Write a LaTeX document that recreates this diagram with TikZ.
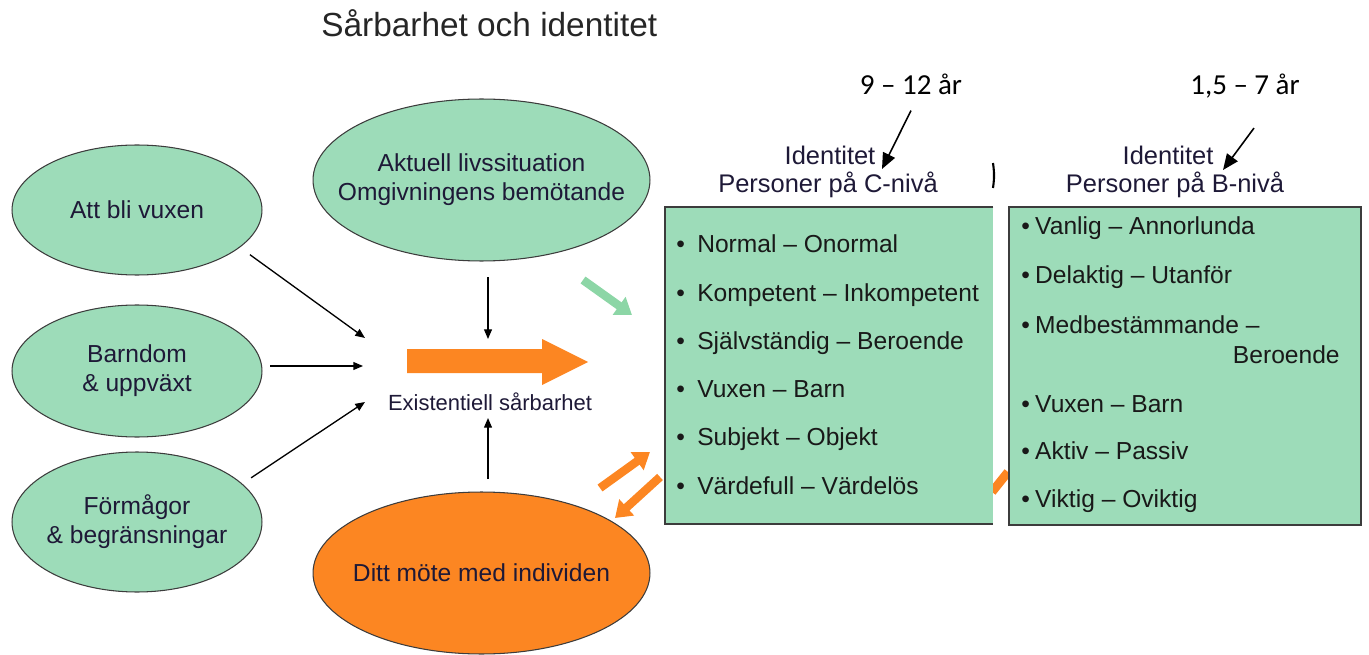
\documentclass[tikz,border=0pt]{standalone}
\usepackage{fontspec}
\setmainfont{Liberation Sans}
\newfontfamily\agefont{Carlito}
\usetikzlibrary{shapes.geometric,arrows.meta}

\definecolor{ellgreen}{RGB}{157,220,185}
\definecolor{arrgreen}{RGB}{140,214,166}
\definecolor{meetorange}{RGB}{252,134,34}
\definecolor{textnavy}{RGB}{30,25,55}
\definecolor{rimgray}{RGB}{60,60,60}

\begin{document}
\begin{tikzpicture}[x=0.02cm,y=-0.02cm,
        greenell/.style={ellipse,draw=rimgray,line width=0.6pt,fill=ellgreen,inner sep=0pt,minimum width=5cm},
        orangeell/.style={greenell,fill=meetorange},
        elltext/.style={align=center,text=textnavy,font=\fontsize{14}{16.5}\selectfont},
        listbox/.style={fill=ellgreen,inner sep=0pt},
        item/.style={anchor=base west,inner sep=0pt,font=\fontsize{14}{17}\selectfont,text=black!90},
        head/.style={anchor=base,inner sep=0pt,text=textnavy,font=\fontsize{14.5}{17}\selectfont},
        agelabel/.style={anchor=base,inner sep=0pt,font=\agefont\fontsize{16.5}{20}\selectfont},
        thinarrow/.style={line width=0.75pt,-{Triangle[length=5.5pt,width=4.5pt]}},
        agearrow/.style={line width=0.9pt,-{Triangle[length=9pt,width=7.5pt]}},
        fatarrow/.style={line width=4.8pt,-{Triangle[length=9pt,width=12pt]}}]
                \useasboundingbox (0,0) rectangle (1369,655);
                \node[anchor=base west,inner sep=0pt,font=\fontsize{19}{23}\selectfont,text=black!85] (title) at (321,37) {Sårbarhet och identitet};
                \node[greenell,minimum height=2.6cm,label={[elltext]center:Att bli vuxen}] (vuxen) at (137,210) {};
                \node[greenell,minimum height=2.64cm,label={[elltext]center:{Barndom\\\& uppväxt}}] (barndom) at (137,371) {};
                \node[greenell,minimum height=2.8cm,label={[elltext]center:{Förmågor\\\& begränsningar}}] (formagor) at (137,522) {};
                \node[greenell,minimum width=6.74cm,minimum height=3.24cm,label={[elltext]center:{Aktuell livssituation\\Omgivningens bemötande}}] (aktuell) at (481.5,180) {};
                \node[orangeell,minimum width=6.74cm,minimum height=3.24cm,label={[elltext]center:Ditt möte med individen}] (mote) at (481.5,573) {};
                \coordinate (inA) at (365,338);
                \coordinate (inB) at (363,366);
                \coordinate (inC) at (365,402);
                \coordinate (inD) at (488,339);
                \coordinate (inE) at (488,418);
                \draw[thinarrow,shorten <=7pt] (vuxen.-20) -- (inA);
                \draw[thinarrow,shorten <=4.5pt] (barndom.east |- inB) -- (inB);
                \draw[thinarrow,shorten <=6pt] (formagor.20) -- (inC);
                \draw[thinarrow,shorten <=9pt] (aktuell.south -| inD) -- (inD);
                \draw[thinarrow,shorten <=7pt] (mote.north -| inE) -- (inE);
                \fill[meetorange] (407,349) -- (542,349) -- (542,339) -- (588,362) -- (542,385) -- (542,373) -- (407,373) -- cycle;
                \node[anchor=base,inner sep=0pt,font=\fontsize{12.5}{15}\selectfont,text=textnavy] (exist) at (490,410) {Existentiell sårbarhet};
                \coordinate (greenTail) at (583,280);
                \coordinate (greenTip) at (632,315);
                \coordinate (upTail) at (600,488);
                \coordinate (upTip) at (650,452);
                \coordinate (downTail) at (660,477);
                \coordinate (downTip) at (615,518);
                \draw[fatarrow,arrgreen] (greenTail) -- (greenTip);
                \draw[fatarrow,meetorange] (upTail) -- (upTip);
                \draw[fatarrow,meetorange] (downTail) -- (downTip);
                \draw[meetorange,line width=5pt] (992,492) -- (1008,472);
                \draw[line width=1.2pt] (993,163) to[bend left=8] (993,188);
                \node[listbox,minimum width=6.56cm,minimum height=6.34cm] (boxC) at (829,365.5) {};
                \draw[line width=1pt,rimgray] (boxC.north east) -- (boxC.north west) -- (boxC.south west) -- (boxC.south east);
                \node[listbox,draw=rimgray,line width=1pt,minimum width=7.04cm,minimum height=6.36cm] (boxB) at (1185,366) {};
                \node[head] (idC) at (830,165) {Identitet};
                \node[head] (persC) at (828,193) {Personer på C-nivå};
                \node[head] (idB) at (1168,165) {Identitet};
                \node[head] (persB) at (1175,193) {Personer på B-nivå};
                \foreach \txt [count=\i] in {Normal – Onormal,Kompetent – Inkompetent,Självständig – Beroende,Vuxen – Barn,Subjekt – Objekt,Värdefull – Värdelös}
                    \node[item] (c\i) at (676,{253+48.2*(\i-1)}) {\textbullet\hspace{7pt}\txt};
                \foreach \y/\txt [count=\i] in {235/Vanlig – Annorlunda,283/Delaktig – Utanför,333/Medbestämmande –,412/Vuxen – Barn,459/Aktiv – Passiv,507/Viktig – Oviktig}
                    \node[item] (b\i) at (1021,\y) {\textbullet\hspace{3pt}\txt};
                \node[item,anchor=base east] (b3x) at (1340,363) {Beroende};
                \node[agelabel] (ageC) at (911,95) {9 – 12 år};
                \node[agelabel] (ageB) at (1245,95) {1,5 – 7 år};
                \coordinate (tipC) at (882,169);
                \coordinate (tipB) at (1223,170);
                \draw[agearrow] ([yshift=-0.3cm]ageC.south) -- (tipC);
                \draw[agearrow] ([xshift=0.18cm,yshift=-0.58cm]ageB.south) -- (tipB);
            \end{tikzpicture}
\end{document}
